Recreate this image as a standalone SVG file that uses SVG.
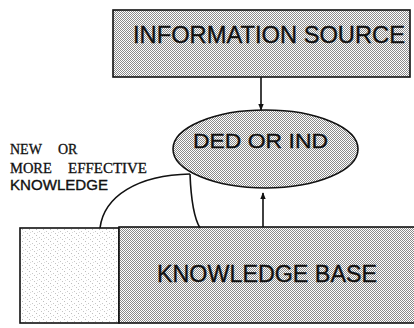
<svg xmlns="http://www.w3.org/2000/svg" width="414" height="328" viewBox="0 0 414 328">
<style>
.sans{font-family:"Liberation Sans",Arial,sans-serif;fill:#111;stroke:#111;stroke-width:0.35}
.serif{font-family:"Liberation Serif","Times New Roman",serif;fill:#111;stroke:#111;stroke-width:0.3}
.edge{fill:none;stroke:#111;stroke-width:1.6}
.box{stroke:#111;stroke-width:1.6}
</style>
<defs>
<pattern id="dense" width="2" height="2" patternUnits="userSpaceOnUse">
<rect width="2" height="2" fill="#ffffff"/>
<rect x="0" y="0" width="1" height="1" fill="#8a8a8a"/>
<rect x="1" y="1" width="1" height="1" fill="#8a8a8a"/>
</pattern>
<pattern id="sparse" width="7" height="6" patternUnits="userSpaceOnUse">
<rect width="7" height="6" fill="#ffffff"/>
<rect x="1" y="1" width="1" height="1" fill="#bdbdbd"/>
<rect x="4" y="3" width="1" height="1" fill="#c8c8c8"/>
<rect x="6" y="5" width="1" height="1" fill="#c4c4c4"/>
<rect x="2" y="4" width="1" height="1" fill="#dcdcdc"/>
</pattern>
<marker id="arr" viewBox="0 0 10 10" refX="9" refY="5" markerWidth="7" markerHeight="7" markerUnits="userSpaceOnUse" orient="auto">
<path d="M0,1 L10,5 L0,9 Z" fill="#111"/>
</marker>
</defs>
<g id="info-source">
<rect class="box" x="113" y="10" width="297" height="67" fill="url(#dense)"/>
<text class="sans" x="133" y="43" font-size="24" textLength="272" lengthAdjust="spacingAndGlyphs">INFORMATION  SOURCE</text>
</g>
<g id="ded-or-ind">
<ellipse class="box" cx="265.5" cy="149" rx="92.5" ry="39" fill="url(#dense)"/>
<text class="sans" x="193" y="148" font-size="21" textLength="135" lengthAdjust="spacingAndGlyphs">DED OR IND</text>
</g>
<g id="knowledge-base">
<rect class="box" x="20" y="228" width="99" height="95" fill="url(#sparse)"/>
<rect class="box" x="119" y="227" width="297" height="96" fill="url(#dense)"/>
<text class="sans" x="157" y="282" font-size="23" textLength="220" lengthAdjust="spacingAndGlyphs">KNOWLEDGE BASE</text>
</g>
<g id="label">
<text class="serif" x="10" y="154" font-size="14">NEW</text>
<text class="serif" x="58" y="154" font-size="14">OR</text>
<text class="serif" x="10" y="173" font-size="14.5">MORE</text>
<text class="serif" x="68" y="173" font-size="14.5" textLength="79" lengthAdjust="spacingAndGlyphs">EFFECTIVE</text>
<text class="sans" x="10" y="190" font-size="14" textLength="98" lengthAdjust="spacingAndGlyphs">KNOWLEDGE</text>
</g>
<g id="connectors">
<line class="edge" x1="261" y1="77" x2="261" y2="110" marker-end="url(#arr)"/>
<line class="edge" x1="263" y1="227" x2="263" y2="193" marker-end="url(#arr)"/>
<path class="edge" d="M100,228 C104,196 138,175 190,174"/>
<path class="edge" d="M190,174 C191,200 194,218 200,228"/>
</g>
</svg>
